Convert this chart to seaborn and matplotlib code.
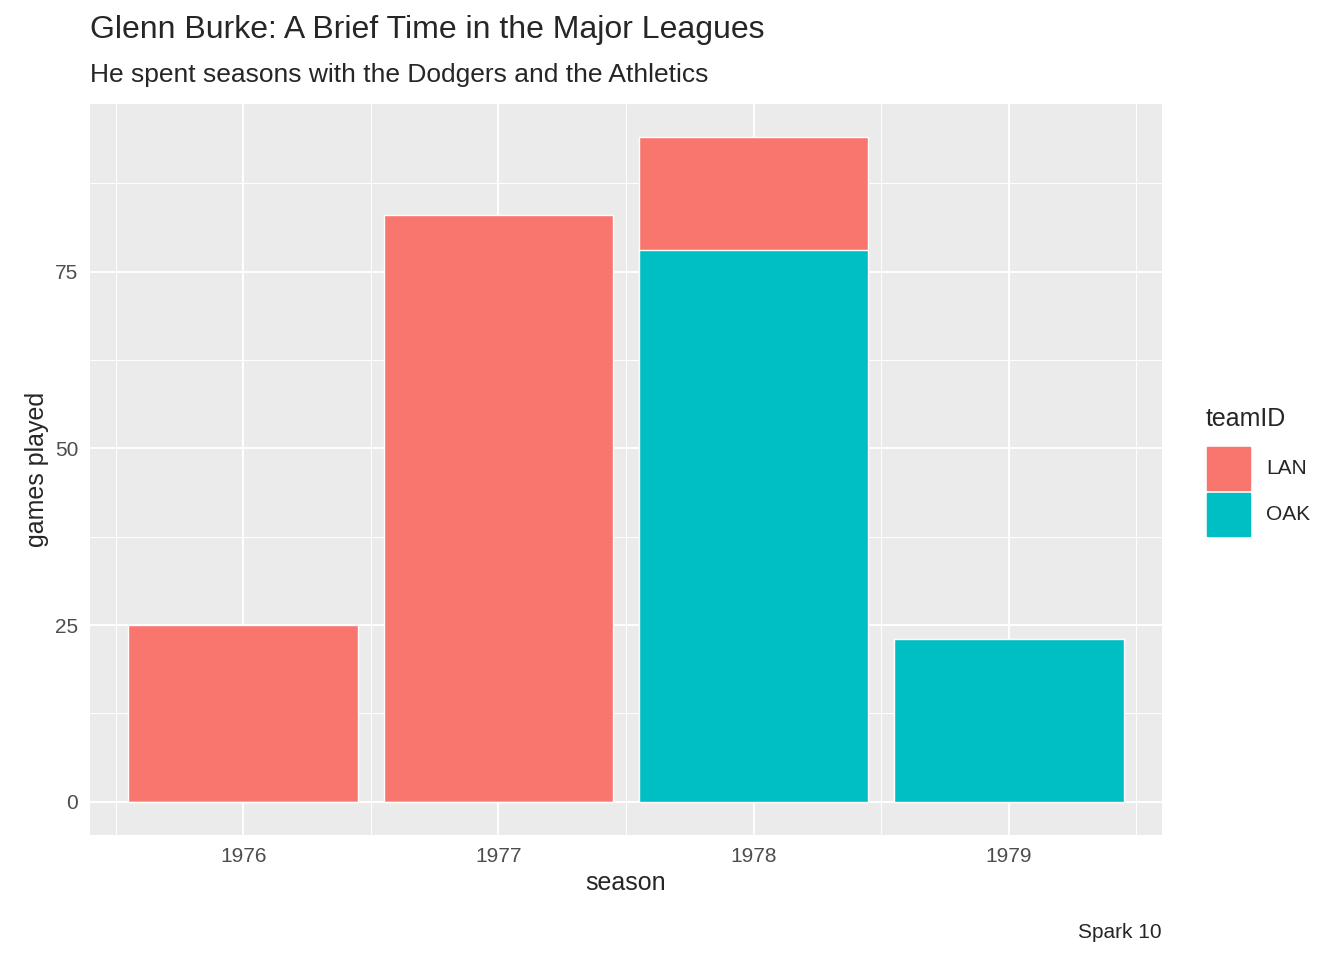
import numpy as np
import pandas as pd
import matplotlib
matplotlib.use("Agg")
import matplotlib.pyplot as plt
import seaborn as sns

seasons = ["1976", "1977", "1978", "1979"]
lan_games = [25, 83, 16, 0]
oak_games = [0, 0, 78, 23]
teams = ["LAN", "OAK"]
colors = {"LAN": "#F8766D", "OAK": "#00BFC4"}

df = pd.DataFrame({"season": seasons, "LAN": lan_games, "OAK": oak_games})
df["total"] = df["LAN"] + df["OAK"]

sns.set_style("darkgrid", {"axes.facecolor": "#EBEBEB", "grid.color": "white"})
plt.rcParams["font.family"] = ["Liberation Sans", "DejaVu Sans"]

fig = plt.figure(figsize=(13.44, 9.6), dpi=100)
ax = fig.add_axes([90 / 1344, 125 / 960, 1072 / 1344, 731 / 960])

# stacked: LAN on top of OAK, so draw totals in LAN colour then OAK over
sns.barplot(data=df, x="season", y="total", color=colors["LAN"], width=0.9,
            saturation=1, ax=ax, zorder=3)
sns.barplot(data=df, x="season", y="OAK", color=colors["OAK"], width=0.9,
            saturation=1, ax=ax, zorder=4)

ymax = df["total"].max()
ax.set_ylim(-0.05 * ymax, ymax * 1.05)
ax.set_xlim(-0.6, 3.6)
ax.set_yticks([0, 25, 50, 75])
ax.set_yticks([12.5, 37.5, 62.5, 87.5], minor=True)
ax.set_xticks([-0.5, 0.5, 1.5, 2.5, 3.5], minor=True)
ax.grid(which="major", color="white", linewidth=1.4, zorder=0)
ax.grid(which="minor", color="white", linewidth=0.7, zorder=0)
ax.set_axisbelow(True)
for s in ax.spines.values():
    s.set_visible(False)
ax.tick_params(which="major", length=5, color="#333333", labelsize=15,
               labelcolor="#4D4D4D", width=1.1)
ax.tick_params(which="minor", length=0)
ax.set_xlabel("season", fontsize=18)
ax.set_ylabel("games played", fontsize=18)

fig.text(90 / 1344, 1 - 30 / 960, "Glenn Burke: A Brief Time in the Major Leagues",
         fontsize=23, va="center")
fig.text(90 / 1344, 1 - 75 / 960, "He spent seasons with the Dodgers and the Athletics",
         fontsize=19, va="center")
fig.text(1162 / 1344, 1 - 933 / 960, "Spark 10", fontsize=15, ha="right", va="center")

# legend
fig.text(1206 / 1344, 1 - 419 / 960, "teamID", fontsize=18, va="center")
for i, t in enumerate(teams):
    y = 447 + i * 46
    fig.patches.append(plt.Rectangle((1207 / 1344, 1 - (y + 43) / 960), 43 / 1344, 43 / 960,
                                     transform=fig.transFigure, color=colors[t]))
    fig.text(1266 / 1344, 1 - (y + 22) / 960, t, fontsize=15, va="center")

fig.savefig("out.png", dpi=100)
